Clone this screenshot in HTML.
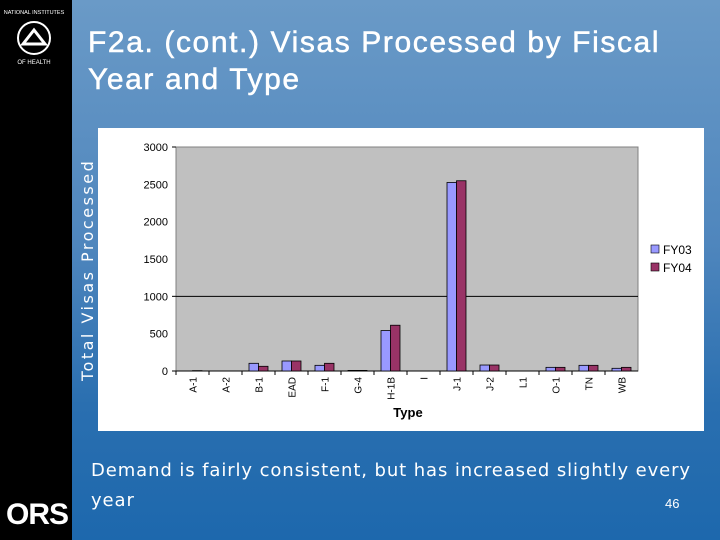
<!DOCTYPE html>
<html><head><meta charset="utf-8"><style>
body{margin:0;width:720px;height:540px;overflow:hidden;font-family:"Liberation Sans",sans-serif}
#bg{position:absolute;left:0;top:0;width:720px;height:540px;background:linear-gradient(180deg,#6a9ac7 0%,#4f86bd 45%,#2a6fb0 75%,#1d68ad 100%)}
#side{position:absolute;left:0;top:0;width:72px;height:540px;background:#000}
.t{position:absolute;color:#fff}
</style></head><body>
<div id="bg"></div>
<div id="side">
<svg width="72" height="110">
<circle cx="34" cy="38" r="16" fill="none" stroke="#fff" stroke-width="2"/>
<path d="M23 44 L34 30 L45 44 Z" fill="none" stroke="#fff" stroke-width="3"/>
<text x="34" y="14" fill="#fff" font-size="5.5" text-anchor="middle" font-family="Liberation Sans">NATIONAL INSTITUTES</text>
<text x="34" y="64" fill="#fff" font-size="6" text-anchor="middle" font-family="Liberation Sans">OF HEALTH</text>
</svg>
<div class="t" style="left:6px;top:498px;font-size:30px;font-weight:bold;letter-spacing:-1px">ORS</div>
</div>
<div class="t" style="left:88px;top:24px;font-size:30px;line-height:37px;letter-spacing:1.6px;-webkit-text-stroke:0.5px #fff">F2a. (cont.) Visas Processed by Fiscal<br>Year and Type</div>
<div class="t" style="left:78px;top:381px;transform-origin:0 0;transform:rotate(-90deg);font-size:16px;white-space:nowrap;letter-spacing:2.5px;font-family:'DejaVu Sans',sans-serif">Total Visas Processed</div>
<div class="t" style="left:91px;top:456px;font-size:18px;line-height:30px;letter-spacing:0.9px;font-family:'DejaVu Sans',sans-serif">Demand is fairly consistent, but has increased slightly every<br>year</div>
<div class="t" style="left:665px;top:496px;font-size:13px">46</div>
<svg id="chart" style="position:absolute;left:0;top:0" width="720" height="540"></svg>
<script>
const categories=["A-1","A-2","B-1","EAD","F-1","G-4","H-1B","I","J-1","J-2","L1","O-1","TN","WB"];
const fy03=[0,0,103,134,76,8,542,0,2525,80,0,49,76,36];
const fy04=[5,0,63,134,103,8,613,0,2548,80,0,49,76,49];
const yTicks=[0,500,1000,1500,2000,2500,3000];
const seriesNames=["FY03","FY04"];
const NS="http://www.w3.org/2000/svg";
const svg=document.getElementById('chart');
const L=176,R=638,T=147,B=371,maxV=3000;
const y=v=>B-(v/maxV)*(B-T);
const bw=(R-L)/categories.length;
const x=i=>L+i*bw;
function mk(tag,a){const e=document.createElementNS(NS,tag);for(const k in a)e.setAttribute(k,a[k]);svg.appendChild(e);return e;}
const box=mk('rect',{x:98,y:128,width:606,height:303,fill:'#fff'});


const pa=mk('rect',{x:L,y:T,width:R-L,height:B-T,fill:'#c0c0c0',stroke:'#808080'});


const gl=mk('line',{x1:L,x2:R,y1:y(1000),y2:y(1000),stroke:'#000'});


yTicks.forEach(v=>{
 const t=mk('text',{x:L-8,y:y(v)+4,'font-size':11,'text-anchor':'end',fill:'#000','font-family':'Liberation Sans'});
 t.textContent=v;
 
 
});
[0,1000,3000].forEach(v=>{mk('line',{x1:L-4,x2:L,y1:y(v),y2:y(v),stroke:'#000'});});
mk('line',{x1:L,x2:R,y1:B,y2:B,stroke:'#000'});
categories.forEach((c,i)=>{
 const cx=x(i)+bw/2, w=9.5;
 const b1=mk('rect',{x:cx-w,y:y(fy03[i]),width:w,height:B-y(fy03[i]),fill:'#9999ff',stroke:'#000','stroke-width':0.8});
 
 
 const b2=mk('rect',{x:cx,y:y(fy04[i]),width:w,height:B-y(fy04[i]),fill:'#993366',stroke:'#000','stroke-width':0.8});
 
 
 mk('line',{x1:x(i),x2:x(i),y1:B,y2:B+4,stroke:'#000'});
 const t=mk('text',{x:0,y:0,'font-size':10,'text-anchor':'end',fill:'#000','font-family':'Liberation Sans',transform:`translate(${cx+4},${B+6}) rotate(-90)`});
 t.textContent=c;
 
 
});
const xt=mk('text',{x:408,y:417,'font-size':13,'font-weight':'bold','text-anchor':'middle',fill:'#000','font-family':'Liberation Sans'});
xt.textContent='Type';


const cols=['#9999ff','#993366'];
seriesNames.forEach((n,i)=>{
 const r=mk('rect',{x:651,y:245+i*18,width:8,height:8,fill:cols[i],stroke:'#000','stroke-width':0.6});
 
 
 const t=mk('text',{x:663,y:254+i*18,'font-size':12,fill:'#000','font-family':'Liberation Sans'});
 t.textContent=n;
 
 
});
</script>
</body></html>
